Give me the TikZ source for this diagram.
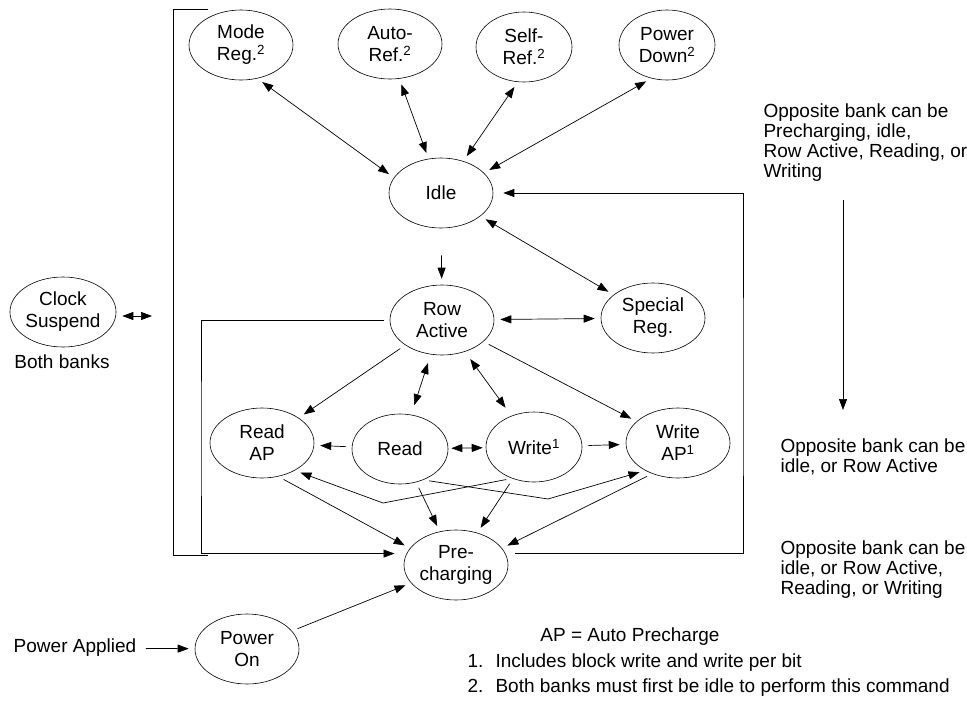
\documentclass[tikz,border=0pt]{standalone}
\usepackage{fontspec}
\setmainfont{Liberation Sans}
\usepackage{tikz}
\usetikzlibrary{shapes.geometric}
\usetikzlibrary{arrows.meta}

\begin{document}
\begin{tikzpicture}[x=1pt,y=-1pt,
    font=\fontsize{19}{22}\selectfont,
    state/.style={draw,ellipse,line width=0.6pt,minimum width=104pt,minimum height=70pt,inner sep=0pt,align=center},
    narrow/.style={state,minimum width=96pt},
    conn/.style={line width=0.7pt,shorten >=6pt,shorten <=6pt},
    tip/.style={conn,-{Triangle[length=11pt,width=8pt]}},
    both/.style={conn,{Triangle[length=11pt,width=8pt]}-{Triangle[length=11pt,width=8pt]}},
    note/.style={align=left,font=\fontsize{19}{20}\selectfont}]
        \useasboundingbox (0,0) rectangle (967,715);
        \node[state] (modereg) at (241,45) {Mode\\Reg.\textsuperscript{2}};
        \node[state] (autoref) at (390,44) {Auto-\\Ref.\textsuperscript{2}};
        \node[narrow] (selfref) at (524,47) {Self-\\Ref.\textsuperscript{2}};
        \node[narrow] (pwrdown) at (667,45) {Power\\Down\textsuperscript{2}};
        \node[state] (idle) at (441,193) {Idle};
        \node[state] (clock) at (63,312) {Clock\\Suspend};
        \node (bothbk) at (62,362) {Both banks};
        \node[state] (rowact) at (442,320) {Row\\Active};
        \node[state] (special) at (653,318) {Special\\Reg.};
        \node[state] (readap) at (262,443) {Read\\AP};
        \node[narrow] (read) at (400,449) {Read};
        \node[narrow] (write) at (534,447) {Write\textsuperscript{1}};
        \node[state] (writeap) at (678,443) {Write\\AP\textsuperscript{1}};
        \node[state] (prechg) at (456,565) {Pre-\\charging};
        \node[state] (pwron) at (247,649) {Power\\On};
        \node (pwrapp) at (75,648) {Power Applied};
        \node[note,anchor=west] (oppA) at (760,143) {Opposite bank can be\\Precharging, idle,\\Row Active, Reading, or\\Writing};
        \node[note,anchor=west] (oppB) at (777,457) {Opposite bank can be\\idle, or Row Active};
        \node[note,anchor=west] (oppC) at (777,570) {Opposite bank can be\\idle, or Row Active,\\Reading, or Writing};
        \node (apnote) at (630,637) {AP = Auto Precharge};
        \node[anchor=west] (foot1) at (464,663) {\makebox[28pt][l]{1.}Includes block write and write per bit};
        \node[anchor=west] (foot2) at (464,688) {\makebox[28pt][l]{2.}Both banks must first be idle to perform this command};
        \coordinate (ckB) at (152,316);
        \coordinate (loopL) at (201,440);
        \coordinate (loopR) at (743,400);
        \coordinate (crossA) at (383,503);
        \coordinate (crossB) at (548,499);
        \coordinate (oppTop) at (843,200);
        \coordinate (oppBot) at (843,410);
        \draw[line width=0.9pt] (208,9) -- (173,9) -- (173,555) -- (208,555);
        \draw[both] (modereg.-64) -- (idle.162);
        \draw[both] (autoref.-75) -- (idle.110);
        \draw[both] (selfref.-100) -- (idle.55);
        \draw[both] (pwrdown.-115) -- (idle.25);
        \draw[both] (idle) -- (special);
        \draw[tip,shorten <=27pt] (idle) -- (rowact);
        \draw[both,shorten >=0pt] (clock.east |- ckB) -- (ckB);
        \draw[both] (rowact) -- (special);
        \draw[tip] (rowact) -- (readap);
        \draw[both,shorten <=9pt,shorten >=10pt] (rowact) -- (read);
        \draw[both,shorten <=9pt,shorten >=10pt] (rowact) -- (write);
        \draw[tip] (rowact) -- (writeap);
        \draw[tip] (read) -- (readap);
        \draw[both,shorten <=3pt,shorten >=3pt] (read) -- (write);
        \draw[tip] (write) -- (writeap);
        \draw[tip] (write.235) -- (crossA) -- (readap.-40);
        \draw[tip] (read.-53) -- (crossB) -- (writeap.-140);
        \draw[tip] (readap.-64) -- (prechg.160);
        \draw[tip] (read) -- (prechg);
        \draw[tip] (write) -- (prechg);
        \draw[tip] (writeap.-130) -- (prechg.20);
        \draw[tip,shorten >=12pt] (rowact.west) -| (loopL) |- (prechg.167);
        \draw[tip,shorten <=10pt,shorten >=10pt] (prechg.13) -| (loopR) |- (idle.east);
        \draw[tip] (pwrapp) -- (pwron);
        \draw[tip] (pwron) -- (prechg);
        \draw[tip,shorten <=0pt,shorten >=0pt] (oppTop) -- (oppBot);
      \end{tikzpicture}
\end{document}
